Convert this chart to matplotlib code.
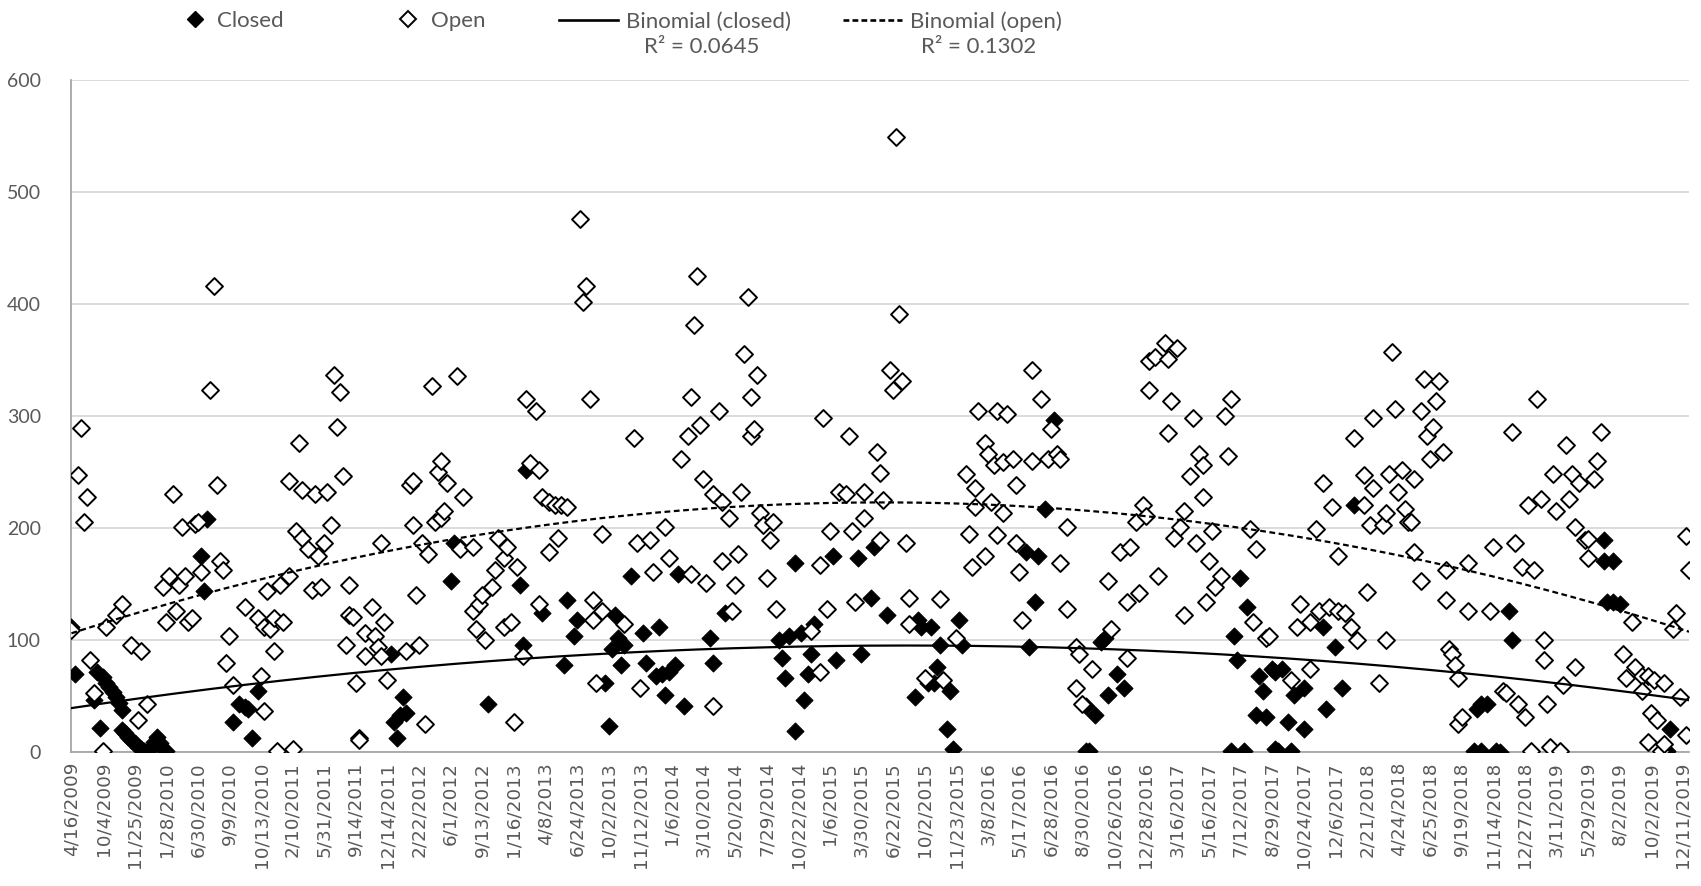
import numpy as np
import matplotlib
matplotlib.use("Agg")
import matplotlib.pyplot as plt
from matplotlib.lines import Line2D

# =========================
# data (category index, value)
# =========================
date_labels = [
    "4/16/2009", "10/4/2009", "11/25/2009", "1/28/2010", "6/30/2010", "9/9/2010",
    "10/13/2010", "2/10/2011", "5/31/2011", "9/14/2011", "12/14/2011", "2/22/2012",
    "6/1/2012", "9/13/2012", "1/16/2013", "4/8/2013", "6/24/2013", "10/2/2013",
    "11/12/2013", "1/6/2014", "3/10/2014", "5/20/2014", "7/29/2014", "10/22/2014",
    "1/6/2015", "3/30/2015", "6/22/2015", "10/2/2015", "11/23/2015", "3/8/2016",
    "5/17/2016", "6/28/2016", "8/30/2016", "10/26/2016", "12/28/2016", "3/16/2017",
    "5/16/2017", "7/12/2017", "8/29/2017", "10/24/2017", "12/6/2017", "2/21/2018",
    "4/24/2018", "6/25/2018", "9/19/2018", "11/14/2018", "12/27/2018", "3/11/2019",
    "5/29/2019", "8/2/2019", "10/2/2019", "12/11/2019",
]
n_categories = 513
label_step = 10

closed_pos = [
    0, 1, 7, 8, 9, 10, 11, 12, 13, 14, 15, 16,
    16, 17, 18, 19, 20, 21, 22, 23, 24, 25, 26, 27, 28, 29, 30,
    41, 42, 43, 51, 53, 55, 56, 57, 59,
    101, 102, 103, 104, 105, 106, 120, 121, 123,
    132, 142, 143, 144, 149, 156, 157, 159, 160, 169, 170, 171, 172, 173, 174, 175,
    177, 181, 182, 185, 186, 187, 188,
    189, 191, 192, 194, 202, 203, 207, 224, 225, 226, 227, 229, 229, 231, 232, 233,
    234, 235, 241, 242, 249, 250,
    253, 254, 258, 267, 268, 269, 272, 271, 273, 274, 275, 277, 278, 279, 281, 282,
    302, 303, 305, 306, 308, 311,
    321, 321, 322, 324, 326, 327, 328, 331, 333, 367, 368, 369, 370, 371, 372, 375,
    376, 377, 378,
    380, 381, 381, 382, 383, 385, 386, 387, 390, 390, 396, 397, 400, 402, 406,
    444, 445, 446, 446, 448, 451, 452, 455, 456, 485, 485, 486, 488, 488, 490,
    504, 505, 506,
]
closed_val = [
    112, 70, 47, 72, 22, 67, 62, 58, 54, 49, 44, 38,
    20, 17, 14, 11, 8, 5, 3, 1, 0, 3, 9, 14, 8, 3, 1,
    175, 144, 208, 27, 43, 40, 39, 13, 55,
    88, 27, 13, 33, 49, 35, 153, 187, 183,
    43, 149, 96, 252, 124, 78, 136, 104, 118, 62, 23, 92, 122, 102, 78, 96,
    157, 106, 80, 68, 112, 70, 51,
    72, 78, 159, 41, 102, 80, 124, 100, 84, 66, 104, 19, 169, 106, 47, 70,
    88, 114, 175, 82, 173, 88,
    138, 183, 122, 49, 118, 112, 112, 62, 62, 76, 96, 21, 55, 3, 118, 96,
    179, 94, 134, 175, 217, 296,
    41, 1, 1, 33, 98, 102, 51, 70, 57, 1, 104, 82, 155, 1, 130, 33,
    68, 55, 31,
    74, 72, 3, 1, 74, 27, 1, 51, 57, 21, 112, 39, 94, 57, 221,
    1, 39, 43, 1, 43, 1, 0, 126, 100, 189, 171, 134, 171, 134, 132,
    7, 1, 21,
]

open_pos = [
    0, 2, 3, 4, 5, 6, 7, 10, 11, 14, 16, 19, 21, 22, 24, 29, 30, 31, 32, 33, 34, 35,
    36, 37, 38, 39, 40, 41, 44, 45, 46, 47, 48, 49, 50, 51, 55, 59, 60, 61, 61, 62,
    63, 64, 64, 65, 66, 67, 69, 69, 70, 71, 72, 73, 73, 75, 76, 77, 78, 79, 80, 81,
    82, 83, 84, 85, 86, 87, 88, 88, 89, 90, 91, 91, 93, 93, 95, 96, 97, 98, 98, 99,
    100, 106, 107, 108, 108, 109, 110, 111, 112, 113, 114, 115, 116, 117, 117, 118,
    119, 122, 123, 124,
    127, 127, 128, 129, 130, 131, 133, 134, 135, 137, 137, 138, 139, 140, 141, 143,
    144, 145, 147, 148, 148, 149, 151, 151, 153, 154, 155, 157, 161, 162, 163, 164,
    165, 165, 166, 168, 168, 175, 178, 179, 180, 183, 184, 188,
    189, 193, 195, 196, 196, 197, 198, 199, 200, 201, 203, 203, 205, 206, 206, 208,
    209, 210, 211, 212, 213, 214, 215, 215, 216, 217, 218, 219, 220, 221, 222, 223,
    234, 237, 237, 238, 239, 240, 243, 245, 246, 247, 248, 251, 251,
    255, 256, 256, 257, 259, 260, 261, 262, 263, 264, 265, 265, 270, 275, 276, 280,
    283, 284, 285, 286, 286, 287, 289, 289, 290, 291, 292, 293, 293, 295, 295, 296,
    298, 299, 299, 300, 301, 304, 304, 307, 309, 310, 312, 313, 313, 315, 315,
    318, 318, 319, 320, 323, 328, 329, 332, 334, 334, 335, 337, 338, 339, 340, 341,
    341, 343, 344, 346, 347, 347, 348, 349, 350, 351, 352, 352, 354, 355, 356, 357,
    358, 358, 359, 360, 361, 362, 364, 365, 366, 367, 373, 374, 375, 378,
    379, 386, 388, 389, 392, 392, 394, 395, 396, 398, 399, 401, 401, 403, 405, 406,
    407, 409, 409, 410, 411, 412, 412, 414, 415, 416, 416, 417, 418, 419, 420, 421,
    422, 423, 424, 425, 425, 427, 427, 428, 429, 430, 431, 432, 433, 434, 435, 435,
    436, 437, 438, 439, 439, 440, 442, 442,
    449, 450, 453, 454, 456, 457, 458, 459, 460, 461, 462, 463, 464, 465, 466, 466,
    467, 468, 469, 470, 471, 472, 473, 474, 475, 476, 476, 477, 479, 480, 480, 482,
    483, 484, 491, 492, 494, 495, 497, 497, 499, 499, 500, 501, 502, 503, 504, 504,
    507, 508, 509, 511, 511, 512,
]
open_val = [
    109, 247, 289, 205, 228, 82, 53, 1, 112, 122, 132, 96, 29, 90, 43, 147, 116, 157,
    230, 126, 149, 201, 157, 116, 120, 204, 205, 161, 323, 416, 238, 171, 163, 80,
    104, 60, 130, 120, 68, 112, 37, 144,
    110, 120, 90, 1, 149, 116, 157, 242, 3, 197, 276, 234, 191, 181, 145, 230, 175,
    147, 187, 232, 203, 337, 290, 321, 246, 96, 149, 122, 121, 62, 13, 11, 106, 86,
    130, 104, 94, 187, 86, 116, 64, 90, 238, 242, 203, 140, 96, 187, 25, 177, 327,
    205, 250, 260, 209, 215, 240, 336, 181, 228,
    183, 126, 110, 132, 140, 100, 147, 163, 191, 173, 112, 183, 116, 27, 165, 86,
    315, 258, 304, 252, 132, 228, 223, 179, 221, 191, 221, 219, 476, 402, 416, 315,
    136, 118, 62, 126, 195, 114, 280, 187, 57, 189, 161, 201,
    173, 262, 282, 317, 159, 381, 425, 292, 244, 151, 230, 41, 304, 223, 171, 209,
    126, 149, 177, 232, 355, 406, 317, 282, 288, 337, 213, 203, 155, 189, 205, 128,
    108, 167, 72, 298, 128, 197, 232, 230, 282, 197, 134, 232, 209,
    268, 249, 189, 225, 341, 323, 549, 391, 331, 187, 138, 114, 66, 137, 64, 102,
    248, 195, 165, 236, 219, 304, 276, 175, 266, 223, 256, 304, 194, 259, 213, 302,
    262, 238, 187, 161, 118, 260, 341, 315, 262, 288, 266, 262, 169, 201, 128,
    94, 57, 88, 43, 74, 153, 110, 179, 134, 84, 183, 205, 142, 221, 211, 323,
    349, 353, 157, 365, 351, 285, 313, 191, 361, 201, 215, 122, 246, 298, 187, 266,
    256, 228, 134, 171, 197, 147, 157, 300, 264, 315, 199, 116, 181, 102,
    104, 64, 112, 132, 74, 116, 199, 126, 240, 130, 219, 175, 126, 124, 112, 280,
    100, 221, 247, 143, 203, 236, 298, 62, 203, 213, 100, 248, 357, 306, 232, 252,
    217, 205, 205, 244, 179, 153, 304, 333, 282, 262, 290, 313, 331, 268, 163, 136,
    92, 88, 78, 66, 25, 31, 169, 126,
    126, 183, 55, 53, 286, 187, 43, 165, 31, 221, 1, 163, 315, 226, 100, 82,
    43, 5, 248, 215, 1, 60, 274, 226, 248, 201, 76, 240, 189, 190, 173, 244,
    260, 286, 88, 66, 116, 76, 68, 55, 68, 9, 35, 64, 29, 1, 62, 7,
    110, 124, 49, 15, 193, 163,
]

r2_labels = ["R\u00b2 = 0.0645", "R\u00b2 = 0.1302"]

# =========================
# style
# =========================
GRID = "#d9d9d9"
AXIS = "#a6a6a6"
TXT = "#595959"
LEG_FONT = {"family": "Lato", "size": 16}

fig = plt.figure(figsize=(17.01, 8.86), dpi=100)
ax = fig.add_axes([0.042, 0.151, 0.951, 0.759])

# polynomial (order 2) trendlines, Excel style x = 1..n
cx = np.array(closed_pos) + 1
ox = np.array(open_pos) + 1
c_fit = np.polyfit(cx, closed_val, 2)
o_fit = np.polyfit(ox, open_val, 2)
xs = np.arange(n_categories)
c_trend = np.polyval(c_fit, xs + 1)
o_trend = np.polyval(o_fit, xs + 1)

ax.scatter(closed_pos, closed_val, marker="D", s=74, color="black",
           edgecolors="black", linewidths=0.8, zorder=3)
ax.scatter(open_pos, open_val, marker="D", s=74, facecolors="white",
           edgecolors="black", linewidths=1.4, zorder=4)
ax.plot(xs, c_trend, color="black", lw=1.6, zorder=5)
ax.plot(xs, o_trend, color="black", lw=1.6, ls=(0, (2.6, 1.6)), zorder=5)

ax.set_xlim(0, n_categories - 1)
ax.set_ylim(0, 600)
ax.set_yticks(range(0, 601, 100))
ax.set_xticks(range(0, n_categories, label_step)[:len(date_labels)])
ax.set_xticklabels(date_labels, rotation=90, fontsize=13.2, color=TXT,
                   family="DejaVu Sans")
for t in ax.get_yticklabels():
    t.set_family("Lato")
    t.set_fontsize(14)
    t.set_color(TXT)
ax.tick_params(axis="both", length=0)
ax.tick_params(axis="x", pad=7)
ax.tick_params(axis="y", pad=22)

ax.grid(axis="y", color=GRID, lw=1.3, zorder=0)
ax.set_axisbelow(True)
for s in ["top", "right"]:
    ax.spines[s].set_visible(False)
for s in ["left", "bottom"]:
    ax.spines[s].set_color(AXIS)
    ax.spines[s].set_linewidth(1.3)

# =========================
# legend (markers / trendlines)
# =========================
mk_handles = [
    Line2D([], [], ls="none", marker="D", ms=8.5, color="black"),
    Line2D([], [], ls="none", marker="D", ms=8.5, mfc="white", mec="black", mew=1.4),
]
leg1 = fig.legend(mk_handles, ["Closed", "Open"], loc="center left",
                  bbox_to_anchor=(0.1082, 0.976), ncol=2, frameon=False,
                  handlelength=1.0, handletextpad=0.5, columnspacing=5.1,
                  borderpad=0, borderaxespad=0, prop=LEG_FONT)
ln_handles = [
    Line2D([], [], color="black", lw=1.9),
    Line2D([], [], color="black", lw=1.9, ls=(0, (2.2, 1.2))),
]
leg2 = fig.legend(ln_handles, ["Binomial (closed)", "Binomial (open)"],
                  loc="center left", bbox_to_anchor=(0.3286, 0.976), ncol=2,
                  frameon=False, handlelength=2.65, handletextpad=0.36,
                  columnspacing=2.35, borderpad=0, borderaxespad=0, prop=LEG_FONT)
for lg in (leg1, leg2):
    for t in lg.get_texts():
        t.set_color(TXT)

# R² lines centred under the trendline legend labels
fig.canvas.draw()
renderer = fig.canvas.get_renderer()
for t, r2 in zip(leg2.get_texts(), r2_labels):
    bb = t.get_window_extent(renderer).transformed(fig.transFigure.inverted())
    fig.text((bb.x0 + bb.x1) / 2 - 0.004, 0.947, r2, ha="center", va="center",
             color=TXT, **LEG_FONT)

fig.savefig("out.png", dpi=100)
